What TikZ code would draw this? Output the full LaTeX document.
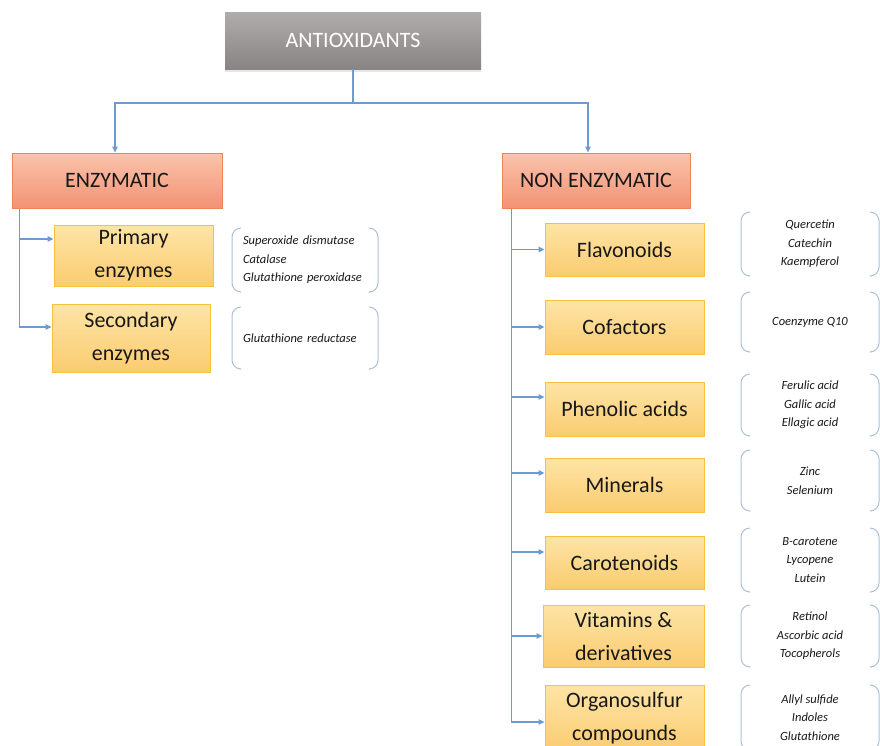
\documentclass[tikz,border=0pt]{standalone}
\usepackage{fontspec}
\setmainfont{Carlito}
\usetikzlibrary{arrows.meta,shadows}

\definecolor{linkblue}{RGB}{108,155,210}
\definecolor{bracketblue}{RGB}{170,192,216}
\definecolor{greytop}{RGB}{176,172,172}
\definecolor{greybot}{RGB}{136,132,132}
\definecolor{salmontop}{RGB}{250,196,172}
\definecolor{salmonbot}{RGB}{242,146,116}
\definecolor{salmonedge}{RGB}{238,132,88}
\definecolor{yellowtop}{RGB}{254,228,166}
\definecolor{yellowbot}{RGB}{250,204,112}
\definecolor{yellowedge}{RGB}{246,192,64}
\definecolor{inktext}{RGB}{24,24,24}

\tikzset{
  headbox/.style={top color=greytop, bottom color=greybot, text=white,
    font=\fontsize{22}{26}\selectfont, inner sep=0pt,
    drop shadow={opacity=0.2, shadow xshift=0pt, shadow yshift=-3pt}},
  classbox/.style={draw=salmonedge, line width=1pt, top color=salmontop,
    bottom color=salmonbot, text=inktext, inner sep=0pt,
    font=\fontsize{22}{26}\selectfont},
  groupbox/.style={draw=yellowedge, line width=1pt, top color=yellowtop,
    bottom color=yellowbot, text=inktext, inner sep=0pt, align=center,
    font=\fontsize{22}{33}\selectfont},
  itemlist/.style={inner sep=0pt, outer sep=0pt, text=inktext,
    font=\itshape\fontsize{12.5}{18.5}\selectfont},
  link/.style={linkblue, line width=1.1pt},
  tip/.style={-{Triangle[length=6pt,width=5.5pt]}},
  bracket/.style={bracketblue, line width=1pt, rounded corners=9pt},
}

\begin{document}
\begin{tikzpicture}[x=1pt,y=-1pt]
  \useasboundingbox (0,0) rectangle (880,745);
  \clip (0,0) rectangle (880,745);

  \node[headbox, minimum width=256pt, minimum height=57pt] (anti) at (353,40.5) {ANTIOXIDANTS};

  \node[classbox, minimum width=210pt, minimum height=55pt] (enz) at (117,180.5) {ENZYMATIC};
  \node[classbox, minimum width=188pt, minimum height=55pt] (nonenz) at (596,180.5) {NON ENZYMATIC};

  \node[groupbox, minimum width=159pt, minimum height=61pt] (prim) at (133.5,255.5) {Primary\\enzymes};
  \node[groupbox, minimum width=158pt, minimum height=68pt] (sec) at (131,338) {Secondary\\enzymes};

  \node[itemlist, text width=124pt, align=left, minimum width=146pt, minimum height=64pt] (lprim) at (305,260)
    {Superoxide dismutase\\Catalase\\Glutathione peroxidase};
  \node[itemlist, text width=124pt, align=left, minimum width=146pt, minimum height=62pt] (lsec) at (305,338)
    {Glutathione reductase};

  \node[groupbox, minimum width=159pt, minimum height=53pt] (flav) at (624.5,249.5) {Flavonoids};
  \node[groupbox, minimum width=159pt, minimum height=54pt] (cof) at (624.5,327) {Cofactors};
  \node[groupbox, minimum width=159pt, minimum height=54pt] (phen) at (624.5,409) {Phenolic acids};
  \node[groupbox, minimum width=159pt, minimum height=54pt] (min) at (624.5,485) {Minerals};
  \node[groupbox, minimum width=159pt, minimum height=53pt] (car) at (624.5,562.5) {Carotenoids};
  \node[groupbox, minimum width=161pt, minimum height=62pt] (vit) at (623.5,636) {Vitamins \&\\derivatives};
  \node[groupbox, minimum width=159pt, minimum height=67pt] (org) at (624.5,718.5) {Organosulfur\\compounds};

  \node[itemlist, align=center, minimum width=138pt, minimum height=64pt] (lflav) at (810,244) {Quercetin\\Catechin\\Kaempferol};
  \node[itemlist, align=center, minimum width=138pt, minimum height=60pt] (lcof) at (810,322) {Coenzyme Q10};
  \node[itemlist, align=center, minimum width=138pt, minimum height=62pt] (lphen) at (810,405) {Ferulic acid\\Gallic acid\\Ellagic acid};
  \node[itemlist, align=center, minimum width=138pt, minimum height=61pt] (lmin) at (810,480.5) {Zinc\\Selenium};
  \node[itemlist, align=center, minimum width=138pt, minimum height=64pt] (lcar) at (810,560) {B-carotene\\Lycopene\\Lutein};
  \node[itemlist, align=center, minimum width=138pt, minimum height=62pt] (lvit) at (810,636) {Retinol\\Ascorbic acid\\Tocopherols};
  \node[itemlist, align=center, minimum width=138pt, minimum height=65pt] (lorg) at (810,717.5) {Allyl sulfide\\Indoles\\Glutathione};

  \coordinate (hub) at (anti.south |- 0,103);
  \draw[link] (anti.south) -- (hub);
  \draw[link,tip] (hub) -| ([xshift=-2pt]enz.north);
  \draw[link,tip] (hub) -| ([xshift=-8pt]nonenz.north);

  \draw[link,tip] ([xshift=8pt]enz.south west) |- ([yshift=16.5pt]prim.west);
  \draw[link,tip] ([xshift=8pt]enz.south west) |- ([yshift=11pt]sec.west);

  \foreach \n/\s in {flav/0,cof/0,phen/12,min/12,car/10.5,vit/0,org/-3.5}
    \draw[link,tip] ([xshift=10pt]nonenz.south west) |- ([yshift=\s pt]\n.west);

  \foreach \l in {lprim,lsec,lflav,lcof,lphen,lmin,lcar,lvit,lorg} {
    \draw[bracket] ([xshift=8pt]\l.north west) -- (\l.north west) -- (\l.south west) -- ([xshift=8pt]\l.south west);
    \draw[bracket] ([xshift=-8pt]\l.north east) -- (\l.north east) -- (\l.south east) -- ([xshift=-8pt]\l.south east);
  }
\end{tikzpicture}
\end{document}
